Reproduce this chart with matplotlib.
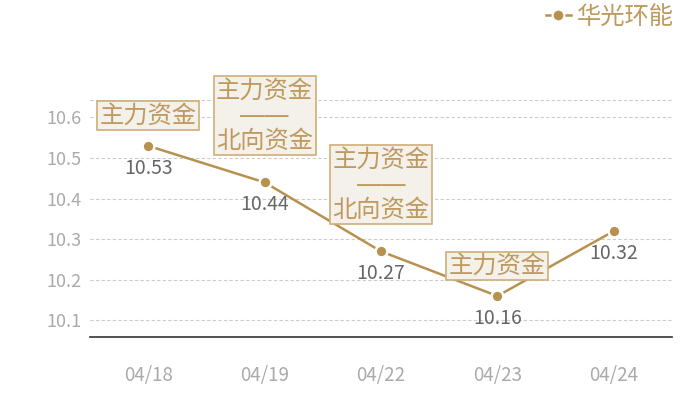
import matplotlib
matplotlib.use("Agg")
import matplotlib.pyplot as plt
from matplotlib.lines import Line2D

plt.rcParams['font.family'] = ['Noto Sans CJK SC', 'DejaVu Sans']

dates = ["04/18", "04/19", "04/22", "04/23", "04/24"]
prices = [10.53, 10.44, 10.27, 10.16, 10.32]
notes = ["主力资金", "主力资金\n――\n北向资金", "主力资金\n――\n北向资金", "主力资金", ""]
series_name = "华光环能"
yticks = [10.1, 10.2, 10.3, 10.4, 10.5, 10.6]

LINE = "#b8914f"
TXT = "#bf9a5e"
W, H = 700, 400
fig = plt.figure(figsize=(7, 4), dpi=100)
ax = fig.add_axes([90 / W, (H - 337) / H, (672 - 90) / W, (337 - 100) / H])

x = list(range(len(dates)))
ax.plot(x, prices, color=LINE, lw=1.8, marker='o', markersize=8.5,
        markerfacecolor=LINE, markeredgecolor='white', markeredgewidth=1.8,
        zorder=3)

ax.set_xlim(-0.5, len(dates) - 0.5)
ax.set_ylim(10.059, 10.643)
ax.set_xticks(x)
ax.set_xticklabels(dates)
ax.set_yticks(yticks)
ax.set_yticklabels([f"{v:.1f}" for v in yticks])
ax.tick_params(axis='both', length=0, colors='#aaaaaa', labelsize=13)
ax.tick_params(axis='x', pad=20, labelsize=13.5)
ax.tick_params(axis='y', pad=6)

for s in ['left', 'right', 'top']:
    ax.spines[s].set_visible(False)
ax.spines['bottom'].set_color('#333333')
ax.spines['bottom'].set_linewidth(1.2)

for v in yticks:
    ax.axhline(v, color='#cccccc', lw=0.8, ls=(0, (3, 2)), zorder=1)
ax.axhline(ax.get_ylim()[1], color='#cccccc', lw=0.8, ls=(0, (3, 2)), zorder=1)

for xi, v in zip(x, prices):
    ax.annotate(f"{v:.2f}", (xi, v), xytext=(0, -16), textcoords='offset points',
                ha='center', va='center', color='#666666', fontsize=14, zorder=4)

for xi, v, n in zip(x, prices, notes):
    if not n:
        continue
    nlines = n.count("\n") + 1
    off = 13 if nlines == 1 else 21.5
    ax.annotate(n, (xi, v), xytext=(0, off), textcoords='offset points',
                ha='center', va='bottom', color=TXT, fontsize=17.5,
                family=['DejaVu Sans', 'Noto Sans CJK SC'],
                linespacing=1.05, multialignment='center', zorder=5,
                bbox=dict(boxstyle='square,pad=0.1', fc='#f4f0ea',
                          ec='#cfae78', lw=1.2))

handle = Line2D([], [], color=LINE, lw=1.8, marker='o', markersize=8.5,
                markerfacecolor=LINE, markeredgecolor='white', markeredgewidth=1.5)
fig.legend([handle], [series_name], loc='upper right', bbox_to_anchor=(696 / W, 1.045),
           frameon=False, fontsize=17.5, labelcolor=TXT, handlelength=1.05,
           handletextpad=0.25)

fig.savefig("out.png", dpi=100)
